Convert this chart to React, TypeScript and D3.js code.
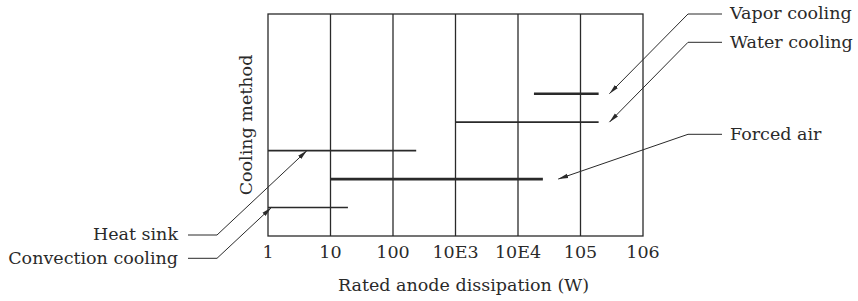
import React from 'react';
import * as d3 from 'd3';

// cooling methods vs. rated anode dissipation (log W)
const categories = ['Convection cooling', 'Forced air', 'Heat sink', 'Water cooling', 'Vapor cooling'];
const rows = [1, 2, 3, 4, 5];
const rangeStart = [1, 10, 1, 1000, 18000];
const rangeEnd = [19, 25000, 235, 195000, 195000];
const heavy = [false, true, false, false, true];

const tickValues = [1, 10, 100, 1e3, 1e4, 1e5, 1e6];
const tickLabels = ['1', '10', '100', '10E3', '10E4', '105', '106'];

// arrow tips, in data units
const tipValue = [1.13, 44000, 4.2, 290000, 290000];
const tipRow = [1, 2, 3, 4, 5];
const labelSide = ['left', 'right', 'left', 'right', 'right'];

const width = 858;
const height = 301;
const margin = { top: 14, right: 215, bottom: 65, left: 268 };
const font = '"DejaVu Serif", serif';
const fontSize = 17.5;
const ink = '#2a2a2a';

const App = () => {
  const x = d3.scaleLog().domain([1, 1e6]).range([margin.left, width - margin.right]);
  const y = d3.scaleLinear().domain([0, 7.8]).range([height - margin.bottom, margin.top]);
  const [x0, x1] = x.range();
  const [yb, yt] = y.range();

  // label leader positions (layout only)
  const leftLabelY: Record<string, number> = { 'Heat sink': 235, 'Convection cooling': 258.3 };
  const rightLabelY: Record<string, number> = { 'Vapor cooling': 14, 'Water cooling': 42.3, 'Forced air': 134.3 };
  const leftElbow = 217, leftStart = 188;
  const rightElbow = 688, rightEnd = 722;

  return (
    <svg width={width} height={height} style={{ position: 'absolute', left: 0, top: 0, background: '#fff' }}>
      <defs>
        <marker id="tip" viewBox="0 -3 10 6" refX={10} refY={0} markerWidth={10} markerHeight={6}
          markerUnits="userSpaceOnUse" orient="auto">
          <path d="M0,-2.2L10,0L0,2.2Z" fill={ink} />
        </marker>
      </defs>

      {/* gridlines */}
      {tickValues.slice(1, -1).map(v => (
        <line key={v} x1={x(v)} x2={x(v)} y1={yt} y2={yb} stroke={ink} strokeWidth={1.3} />
      ))}
      <rect x={x0} y={yt} width={x1 - x0} height={yb - yt} fill="none" stroke={ink} strokeWidth={1.3} />

      {/* ranges */}
      {categories.map((c, i) => (
        <line key={c} x1={x(rangeStart[i])} x2={x(rangeEnd[i])} y1={y(rows[i])} y2={y(rows[i])}
          stroke={ink} strokeWidth={heavy[i] ? 2.6 : 1.6} />
      ))}

      {/* tick labels */}
      {tickValues.map((v, i) => (
        <text key={v} x={x(v)} y={258.3} textAnchor="middle" fontFamily={font} fontSize={fontSize} fill={ink}>
          {tickLabels[i]}
        </text>
      ))}

      {/* annotations */}
      {categories.map((c, i) => {
        const tx = x(tipValue[i]);
        const ty = y(tipRow[i]);
        if (labelSide[i] === 'left') {
          const ly = leftLabelY[c];
          return (
            <g key={c}>
              <polyline points={`${leftStart},${ly} ${leftElbow},${ly} ${tx},${ty}`} fill="none"
                stroke={ink} strokeWidth={1} markerEnd="url(#tip)" />
              <text x={leftStart - 10} y={ly} dy="0.3em" textAnchor="end" fontFamily={font}
                fontSize={fontSize} fill={ink}>{c}</text>
            </g>
          );
        }
        const ly = rightLabelY[c];
        return (
          <g key={c}>
            <polyline points={`${rightEnd},${ly} ${rightElbow},${ly} ${tx},${ty}`} fill="none"
              stroke={ink} strokeWidth={1} markerEnd="url(#tip)" />
            <text x={rightEnd + 8} y={ly} dy="0.3em" textAnchor="start" fontFamily={font}
              fontSize={fontSize} fill={ink}>{c}</text>
          </g>
        );
      })}

      {/* axis titles */}
      <text x={(x0 + x1) / 2 + 8} y={290.7} textAnchor="middle" fontFamily={font} fontSize={fontSize} fill={ink}>
        Rated anode dissipation (W)
      </text>
      <text transform={`translate(251.5,${(yt + yb) / 2}) rotate(-90)`} textAnchor="middle"
        fontFamily={font} fontSize={fontSize} fill={ink}>
        Cooling method
      </text>
    </svg>
  );
};

export default App;
